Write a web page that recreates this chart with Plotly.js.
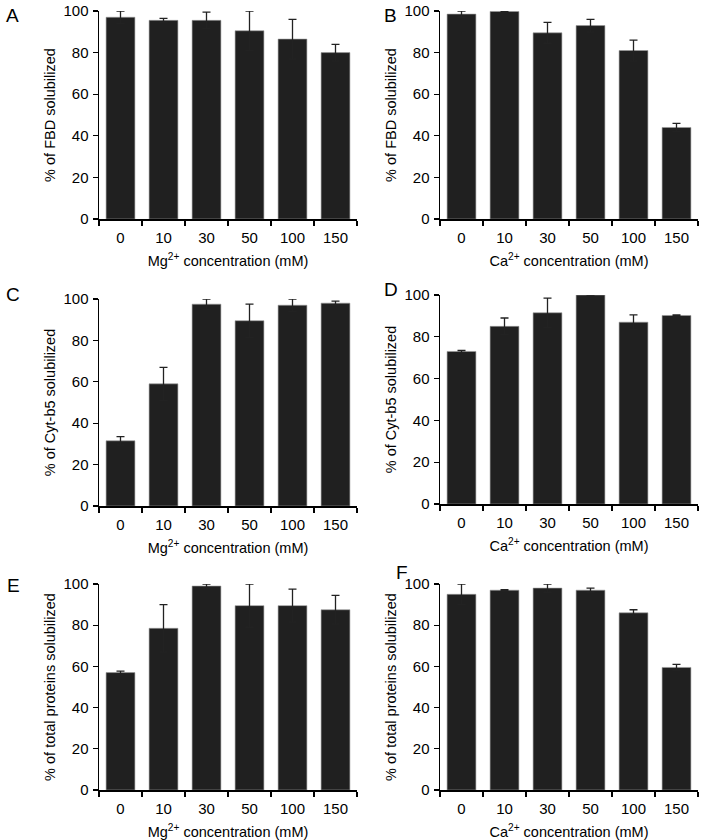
<!DOCTYPE html>
<html><head><meta charset="utf-8">
<script src="https://cdn.plot.ly/plotly-3.0.1.min.js"></script>
<style>body{margin:0;padding:0;background:#fff}#c{width:702px;height:840px}</style>
</head><body><div id="c"></div>
<script>
const categories = ['0','10','30','50','100','150'];
const fbdMg = [97, 95.5, 95.5, 90.5, 86.5, 80];
const fbdMgErr = [3, 1, 4, 9.5, 9.5, 4];
const fbdCa = [98.5, 99.8, 89.5, 93, 81, 44];
const fbdCaErr = [1.5, 0.3, 5, 3, 5, 2];
const cytMg = [31.5, 59, 97.5, 89.5, 97, 98];
const cytMgErr = [2, 8, 2.5, 8, 3, 1];
const cytCa = [73, 85, 91.5, 100, 87, 90.2];
const cytCaErr = [0.5, 4, 7, 0, 3.5, 0.3];
const totMg = [57, 78.5, 99, 89.5, 89.5, 87.5];
const totMgErr = [0.7, 11.5, 1, 10.5, 8, 7];
const totCa = [95, 97, 98, 97, 86, 59.5];
const totCaErr = [5, 0.3, 2, 1, 1.5, 1.5];
const panelLetters = ['A','B','C','D','E','F'];
const yTitles = ['% of FBD solubilized','% of FBD solubilized','% of Cyt-b5 solubilized','% of Cyt-b5 solubilized','% of total proteins solubilized','% of total proteins solubilized'];
const xTitles = ['Mg<sup>2+</sup> concentration (mM)','Ca<sup>2+</sup> concentration (mM)','Mg<sup>2+</sup> concentration (mM)','Ca<sup>2+</sup> concentration (mM)','Mg<sup>2+</sup> concentration (mM)','Ca<sup>2+</sup> concentration (mM)'];

const series = [[fbdMg,fbdMgErr],[fbdCa,fbdCaErr],[cytMg,cytMgErr],[cytCa,cytCaErr],[totMg,totMgErr],[totCa,totCaErr]];
const W=702,H=840;
const xdoms = [[99,357],[440,698]];
const ydoms = [[11,219],[11,219],[299,506],[295,504],[584,790],[584,790]];
const letterPos = [[12,15],[391,15],[13,294],[391,289],[13,585],[402,572]];
const font = {family:'Liberation Sans, Arial, sans-serif', color:'#000'};

const data=[], layout={width:W,height:H,margin:{l:0,r:0,t:0,b:0},showlegend:false,
  paper_bgcolor:'#fff',plot_bgcolor:'#fff',font:Object.assign({size:15},font),annotations:[]};

series.forEach((s,i)=>{
  const n=i+1, xa='x'+(n===1?'':n), ya='y'+(n===1?'':n);
  data.push({type:'bar',x:categories,y:s[0],xaxis:xa,yaxis:ya,
    marker:{color:'#202020',line:{color:'#9a9a9a',width:0.6}},width:0.67,
    error_y:{type:'data',array:s[1],visible:true,color:'#222',thickness:1.3,width:4},
    cliponaxis:false,hoverinfo:'none'});
  const xd=xdoms[i%2], yd=ydoms[i];
  layout['xaxis'+(n===1?'':n)]={domain:[xd[0]/W,xd[1]/W],anchor:ya,type:'category',
    showline:true,linecolor:'#000',linewidth:1.5,ticks:'outside',tickson:'boundaries',ticklen:5,tickwidth:1.3,tickcolor:'#000',
    showgrid:false,zeroline:false,tickfont:{size:15},ticklabelstandoff:4,fixedrange:true,
    title:{text:xTitles[i],font:{size:14.5},standoff:11}};
  layout['yaxis'+(n===1?'':n)]={domain:[1-yd[1]/H,1-yd[0]/H],anchor:xa,range:[0,100],
    tickvals:[0,20,40,60,80,100],showline:true,linecolor:'#000',linewidth:1.5,ticks:'outside',ticklen:5,tickwidth:1.3,tickcolor:'#000',
    showgrid:false,zeroline:false,tickfont:{size:15},ticklabelstandoff:1,fixedrange:true,
    title:{text:yTitles[i],font:{size:14.5},standoff:4}};
  layout.annotations.push({text:panelLetters[i],xref:'paper',yref:'paper',x:letterPos[i][0]/W,y:1-letterPos[i][1]/H,
    xanchor:'center',yanchor:'middle',showarrow:false,font:{size:19}});
});
Plotly.newPlot('c',data,layout,{displayModeBar:false,staticPlot:true});
</script></body></html>
